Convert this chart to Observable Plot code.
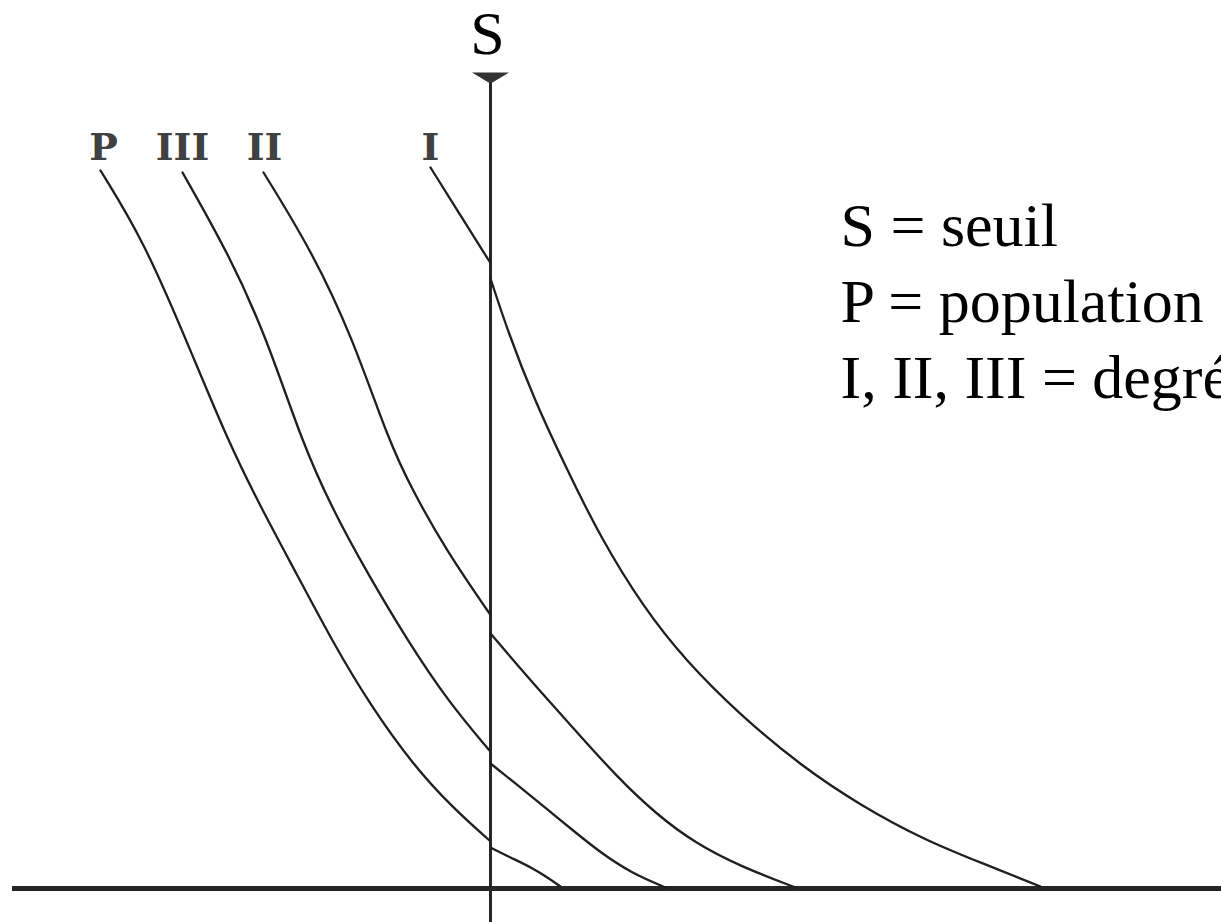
<!DOCTYPE html>
<html>
<head>
<meta charset="utf-8">
<script src="https://cdn.jsdelivr.net/npm/d3@7"></script>
<script src="https://cdn.jsdelivr.net/npm/@observablehq/plot@0.6"></script>
<style>
  html, body { margin: 0; padding: 0; background: #fff; overflow: hidden; }
  svg { display: block; }
</style>
</head>
<body>
<div id="chart"></div>
<script>
// Threshold position on the horizontal axis
const seuil = 0;
const seuilTop = 81.3;
const axisLeft = -47.8;

// Curves: each one is cut at the threshold S and continues a little lower on the right
const pBefore = [[-39.0,71.8],[-34.7,64.8],[-30.4,54.8],[-26.2,44.6],[-22.8,37.8],[-19.3,31.3],[-15.7,24.5],[-12.0,18.3],[-7.7,12.3],[-3.7,8.0],[-0.1,4.8]];
const pAfter = [[0,4.1],[2.0,3.1],[4.3,2.0],[5.7,1.1],[7.0,0.2]];

const iiiBefore = [[-30.8,71.6],[-26.1,63.3],[-22.4,55.1],[-18.9,44.8],[-15.9,38.1],[-12.3,31.5],[-8.3,24.8],[-4.3,18.8],[-0.1,13.8]];
const iiiAfter = [[0,12.5],[3.0,10.1],[5.7,7.9],[8.5,5.6],[11.0,3.6],[14.0,1.6],[17.5,0.1]];

const iiBefore = [[-22.7,71.6],[-17.9,63.8],[-13.8,55.1],[-10.2,44.8],[-7.7,39.6],[-4.3,33.6],[-0.1,27.5]];
const iiAfter = [[0,25.5],[4.0,20.8],[8.5,15.8],[12.7,11.1],[16.5,7.5],[20.5,4.5],[25.0,2.2],[30.5,0.1]];

const iBefore = [[-6.0,72.1],[-3.0,67.3],[-0.1,62.7]];
const iAfter = [[0,61.0],[1.7,55.8],[4.4,48.8],[7.7,41.8],[11.0,35.1],[15.3,28.1],[19.5,22.8],[24.8,17.5],[31.0,12.3],[37.0,8.3],[43.5,4.8],[49.5,2.4],[55.0,0.2]];

// Curve labels written above the start of each curve
const curveLabels = ["P", "III", "II", "I"];
const curveLabelX = [-38.7, -30.8, -22.6, -6.0];
const curveLabelY = 72.9;

// Key
const legendLines = ["S = seuil", "P = population", "I, II, III = degrés"];
const legendLevels = [64.3, 56.7, 49.1];
const legendLeft = 35.0;
const thresholdLabel = "S";
const thresholdLabelY = 83.5;

const segments = [
  ["P", "before", pBefore], ["P", "after", pAfter],
  ["III", "before", iiiBefore], ["III", "after", iiiAfter],
  ["II", "before", iiBefore], ["II", "after", iiAfter],
  ["I", "before", iBefore], ["I", "after", iAfter]
];
const rows = segments.flatMap(([series, side, pts]) =>
  pts.map(([x, y]) => ({series, side, key: series + "-" + side, x, y})));

const labelRows = curveLabels.map((t, i) => ({text: t, x: curveLabelX[i], y: curveLabelY}));
const legendRows = legendLines.map((t, i) => ({text: t, x: legendLeft, y: legendLevels[i]}));

// Flat wedge drawn at the top of the threshold line
const nailHead = {
  draw(context) {
    context.moveTo(-18.5, -3);
    context.lineTo(18.5, -3);
    context.lineTo(2, 7);
    context.lineTo(-2, 7);
    context.closePath();
  }
};

const ink = "#1f1f1f";

const chart = Plot.plot({
  width: 1221,
  height: 922,
  margin: 0,
  x: {domain: [-49, 73.1], axis: null},
  y: {domain: [-3.4, 88.8], axis: null},
  style: {background: "#fff", overflow: "hidden"},
  marks: [
    Plot.ruleY([0], {x1: axisLeft, x2: 73.1, stroke: "#262626", strokeWidth: 5}),
    Plot.ruleX([seuil], {y1: -3.4, y2: seuilTop, stroke: "#262626", strokeWidth: 3}),
    Plot.dot([{x: seuil, y: seuilTop}], {x: "x", y: "y", symbol: nailHead, fill: "#333", stroke: "none"}),
    Plot.line(rows, {x: "x", y: "y", z: "key", curve: "basis", stroke: ink, strokeWidth: 2.3}),
    Plot.text(labelRows, {x: "x", y: "y", text: "text", textAnchor: "middle", lineAnchor: "bottom",
      fontFamily: "DejaVu Serif", fontWeight: "bold", fontSize: 38, fill: "#404040", ariaLabel: "curve labels"}),
    Plot.text([thresholdLabel], {x: seuil, y: thresholdLabelY, text: d => d, textAnchor: "middle", lineAnchor: "bottom",
      dx: -3, fontFamily: "Liberation Serif", fontSize: 62, fill: "#000"}),
    Plot.text(legendRows, {x: "x", y: "y", text: "text", textAnchor: "start", lineAnchor: "bottom",
      fontFamily: "Liberation Serif", fontSize: 62, fill: "#000"})
  ]
});

// Typewriter-style numerals: strokes set close together so the serifs join
d3.select(chart).selectAll('g[aria-label="curve labels"] text')
  .style("letter-spacing", "-12px");

document.getElementById("chart").appendChild(chart);
</script>
</body>
</html>
